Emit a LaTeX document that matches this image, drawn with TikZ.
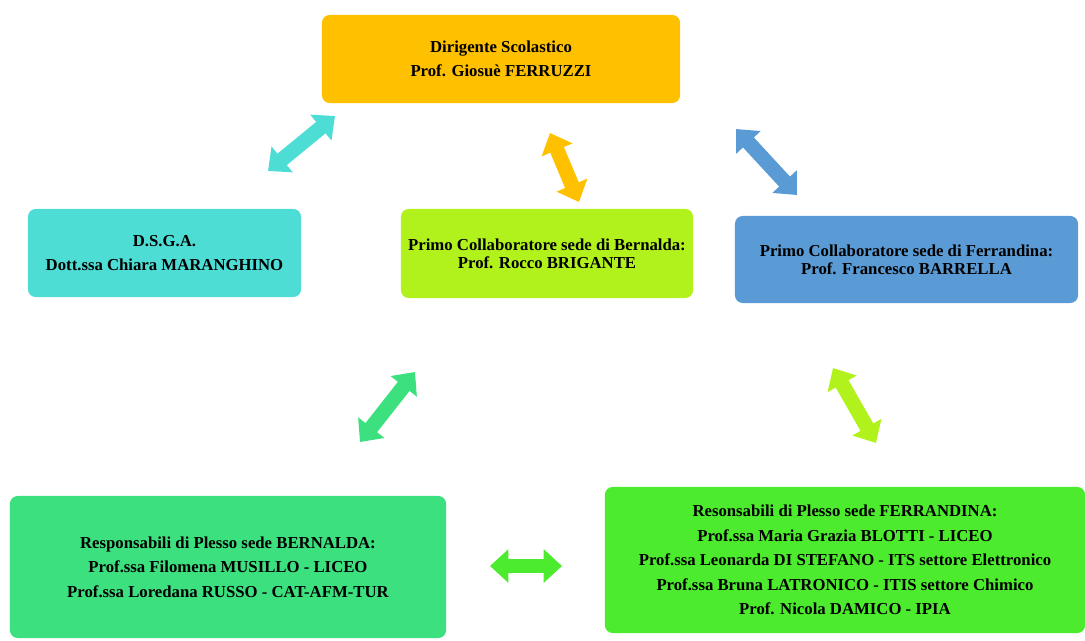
\documentclass[tikz,border=0pt]{standalone}
\usepackage{fontspec}
\setmainfont{Liberation Serif}
\usetikzlibrary{arrows.meta}

\definecolor{dirorange}{HTML}{FFC000}
\definecolor{dsgateal}{HTML}{4DDDD5}
\definecolor{bernlime}{HTML}{B2F21C}
\definecolor{ferrblue}{HTML}{5B9BD5}
\definecolor{bernplesso}{HTML}{3DE07E}
\definecolor{ferrplesso}{HTML}{4CEB2E}

\tikzset{
  ruolo/.style={rounded corners=5.5pt, align=center, inner sep=0pt,
    font=\fontsize{11.9}{17.5}\selectfont\bfseries},
  blocco/.style={line width=10.5pt, {Triangle[length=13pt,width=23pt]}-{Triangle[length=13pt,width=23pt]}}
}

\begin{document}
\begin{tikzpicture}[x=0.025cm, y=-0.025cm]
        \useasboundingbox (0,0) rectangle (1085,640);
        % caselle
        \node[ruolo, fill=dirorange, minimum width=8.95cm, minimum height=2.2cm] (dir) at (501,59)
            {Dirigente Scolastico\\Prof. Giosuè FERRUZZI};
        \node[ruolo, fill=dsgateal, minimum width=6.825cm, minimum height=2.2cm] (dsga) at (164.5,253)
            {D.S.G.A.\\Dott.ssa Chiara MARANGHINO};
        \node[ruolo, fill=bernlime, minimum width=7.3cm, minimum height=2.225cm,
            font=\fontsize{11.9}{13}\selectfont\bfseries] (bern) at (547,253.5)
            {Primo Collaboratore sede di Bernalda:\\Prof. Rocco BRIGANTE};
        \node[ruolo, fill=ferrblue, minimum width=8.575cm, minimum height=2.175cm,
            font=\fontsize{11.9}{13}\selectfont\bfseries] (ferr) at (906.5,259.5)
            {Primo Collaboratore sede di Ferrandina:\\Prof. Francesco BARRELLA};
        \node[ruolo, fill=bernplesso, minimum width=10.9cm, minimum height=3.55cm] (plbern) at (228,567)
            {Responsabili di Plesso sede BERNALDA:\\Prof.ssa Filomena MUSILLO - LICEO\\Prof.ssa Loredana RUSSO - CAT-AFM-TUR};
        \node[ruolo, fill=ferrplesso, minimum width=12cm, minimum height=3.65cm] (plferr) at (845,560)
            {Resonsabili di Plesso sede FERRANDINA:\\Prof.ssa Maria Grazia BLOTTI - LICEO\\
             Prof.ssa Leonarda DI STEFANO - ITS settore Elettronico\\
             Prof.ssa Bruna LATRONICO - ITIS settore Chimico\\Prof. Nicola DAMICO - IPIA};
        % estremi delle frecce
        \coordinate (t1) at (335,116);  \coordinate (t2) at (268,171);
        \coordinate (o1) at (550,133);  \coordinate (o2) at (579,202);
        \coordinate (b1) at (736,129);  \coordinate (b2) at (797,195);
        \coordinate (g1) at (415,372);  \coordinate (g2) at (360,442);
        \coordinate (l1) at (833,368);  \coordinate (l2) at (876,443);
        \coordinate (h1) at (490,566);  \coordinate (h2) at (562,566);
        % frecce
        \draw[blocco, dsgateal] (t1) -- (t2);
        \draw[blocco, dirorange] (o1) -- (o2);
        \draw[blocco, ferrblue] (b1) -- (b2);
        \draw[blocco, bernplesso] (g1) -- (g2);
        \draw[blocco, bernlime] (l1) -- (l2);
        \draw[blocco, ferrplesso] (h1) -- (h2);
    \end{tikzpicture}
\end{document}
